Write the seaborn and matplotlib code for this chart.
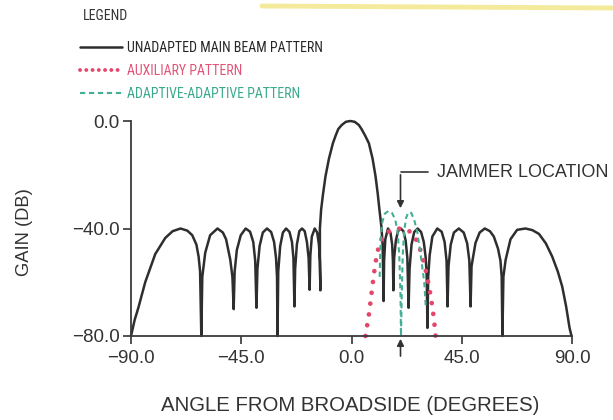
import matplotlib
matplotlib.use("Agg")
import matplotlib.pyplot as plt
import seaborn as sns
from matplotlib.lines import Line2D

# unadapted main beam pattern (degrees, dB)
main_angle = [-90, -88.5, -87, -84.2, -80.1, -76, -73, -69.8, -67, -65, -63.3, -62.4, -61.8, -61.3,
              -60.9, -59.7, -57.7, -54.7, -52.5, -51.2, -49.5, -48.6, -48.1,
              -47.7, -46.8, -45.2, -43.2, -41.4, -40.1, -39.3, -38.8,
              -38.4, -37.5, -36.2, -34.5, -32.8, -31.6, -30.8, -30.4, -30.2,
              -29.9, -29.1, -28, -26.7, -25.3, -24.3, -23.7, -23.3,
              -23, -22.3, -21.3, -20.2, -19.1, -18.2, -17.5, -17.1,
              -16.8, -16.2, -15.0, -14, -13.3, -12.9, -12.7,
              -12.9, -12.9, -12.4, -11.6, -10.6, -9.2, -7.6, -6.5, -5.4, -4, -2.3, -0.5,
              1.3, 3, 4.1, 5.6, 7.1, 8.6, 9.8, 10.7, 11.4, 12.2, 12.7, 13.1,
              13.3, 13.8, 14.9, 15.9, 16.6, 16.9, 17.1,
              17.4, 18.1, 19, 20.1, 21.2, 22.1, 22.8, 23.3,
              23.7, 24.5, 25.6, 27, 28.4, 29.5, 30.3, 30.7, 31.0,
              31.3, 31.9, 33, 35, 36.8, 38, 38.8, 39.2,
              39.6, 40.5, 41.8, 43.8, 45.8, 47.2, 48.1, 48.6,
              49.0, 50.6, 52.3, 54.4, 56.5, 58.1, 59.8, 60.8, 61.3, 61.6,
              62.0, 62.9, 64.9, 67.6, 71, 73.8, 76.5, 79.3, 81.9, 84.2, 86, 87.6, 89, 89.8]
main_gain = [-80, -74, -69.5, -60, -49.5, -43.5, -41, -40, -40.8, -42.5, -46, -50.5, -56, -80,
             -58, -49, -42.5, -40, -41.5, -44, -51.5, -58, -70,
             -56, -48, -42.5, -40, -41.2, -45, -52, -69.5,
             -55, -46.5, -41.5, -40, -41.3, -45, -51, -58, -80,
             -56, -46.5, -41.5, -40, -41.3, -45, -51, -69,
             -55, -46, -41, -40, -41, -45, -51, -62.8,
             -50, -43, -40, -41.5, -46, -52, -63,
             -50, -40, -33, -27, -20.5, -14, -8.3, -5.5, -3, -1.5, -0.3, 0,
             -0.3, -1.5, -3, -5.5, -8.3, -14, -20.5, -27, -33, -39.3, -46, -67,
             -52, -44, -40, -41.5, -46, -52, -63,
             -51, -44.5, -41, -40, -41, -44.5, -51, -69.5,
             -55, -46, -41.3, -40, -41.3, -45, -51, -58, -77,
             -58, -50, -43, -40, -41.2, -45, -52, -69,
             -54, -46, -41.5, -40, -41.5, -45.5, -52, -69,
             -54, -45.4, -41.5, -40, -41, -43, -47.5, -52, -58, -80,
             -58, -51.7, -44, -40.5, -40, -40.6, -42, -45.5, -50.4, -56, -61.6, -69, -77, -80]

# auxiliary pattern
aux_angle = [5.7, 6.4, 7.1, 7.8, 8.4, 9.0, 9.6, 10.3, 11.2, 12.5, 14.5, 17, 20, 23, 25,
             26.8, 28.2, 29.4, 30.4, 31.3, 32.1, 32.8, 33.4, 33.9, 34.3]
aux_gain = [-80, -76, -72, -67, -62.5, -58, -54, -50, -46.5, -43.5, -41.5, -40.3, -40, -40.6, -42,
            -44.8, -48.3, -52.2, -56, -60, -64, -68, -72, -76, -80]

# adaptive-adaptive pattern
adapt_angle = [11.5, 11.7, 12, 12.6, 13.6, 15, 16.5, 17.8, 18.8, 19.5, 20.0, 20.2,
               20.5, 20.9, 21.5, 22.3, 23.2, 24.4, 25.6, 26.9, 28.3, 29.7, 30.3]
adapt_gain = [-58, -50, -43, -37.5, -34.5, -33.5, -34.2, -36.5, -41, -50, -65, -80,
              -65, -50, -41, -36, -34, -34.2, -36.8, -41.6, -50.4, -60, -69]

jammer_angle = 20.0

x_ticks = [-90, -45, 0, 45, 90]
x_tick_labels = ["\u221290.0", "\u221245.0", "0.0", "45.0", "90.0"]
y_ticks = [0, -40, -80]
y_tick_labels = ["0.0", "\u221240.0", "\u221280.0"]

legend_labels = ["UNADAPTED MAIN BEAM PATTERN", "AUXILIARY PATTERN", "ADAPTIVE-ADAPTIVE PATTERN"]
line_colors = ["#2e2e2e", "#e4476a", "#43ae93"]
text_colors = ["#262626", "#e2557a", "#3aa98c"]

sns.set_style("ticks")
plt.rcParams["font.family"] = ["Liberation Sans", "DejaVu Sans"]
narrow = ["Roboto Condensed", "Archivo Narrow", "Liberation Sans"]

fig = plt.figure(figsize=(6.13, 4.2), dpi=100)
ax = fig.add_axes([131 / 613, 84 / 420, 441 / 613, 215 / 420])

sns.lineplot(x=main_angle, y=main_gain, sort=False, estimator=None, ax=ax,
             color=line_colors[0], linewidth=1.8, clip_on=False)
sns.lineplot(x=aux_angle, y=aux_gain, sort=False, estimator=None, ax=ax,
             color=line_colors[1], linewidth=3.4, linestyle=(0, (0.01, 2.3)),
             dash_capstyle="round", clip_on=False)
sns.lineplot(x=adapt_angle, y=adapt_gain, sort=False, estimator=None, ax=ax,
             color=line_colors[2], linewidth=1.5, linestyle=(0, (2.5, 1.8)), clip_on=False)

ax.set_xlim(-90, 90)
ax.set_ylim(-80, 0)
ax.set_xticks(x_ticks, x_tick_labels)
ax.set_yticks(y_ticks, y_tick_labels)
ax.tick_params(axis="both", length=6, width=1.2, colors="#333333", labelsize=13.5)
ax.tick_params(axis="x", pad=4)
ax.tick_params(axis="y", pad=2)
sns.despine(ax=ax)
for side in ["left", "bottom"]:
    ax.spines[side].set_color("#3a3a3a")
    ax.spines[side].set_linewidth(1.3)

ax.set_xlabel("ANGLE FROM BROADSIDE (DEGREES)", fontsize=14.7, color="#333333")
ax.set_ylabel("GAIN (DB)", fontsize=13.2, color="#333333")
ax.xaxis.set_label_coords(0.497, -0.28)
ax.yaxis.set_label_coords(-0.222, 0.484)

# jammer marker
ax.annotate("", xy=(jammer_angle, -33.5), xytext=(jammer_angle, -19),
            arrowprops=dict(arrowstyle="-|>", color="#333333", lw=1.2, mutation_scale=10))
ax.plot([jammer_angle, jammer_angle + 11.4], [-19, -19], color="#333333", lw=1.2)
ax.text(jammer_angle + 15, -19, "JAMMER LOCATION", ha="left", va="center",
        fontsize=13, color="#333333")
ax.annotate("", xy=(jammer_angle, -80), xytext=(jammer_angle, -88.5),
            arrowprops=dict(arrowstyle="-|>", color="#333333", lw=1.2, mutation_scale=10),
            annotation_clip=False)

fig.text(83 / 613, 1 - 16 / 420, "LEGEND", ha="left", va="center", fontsize=10,
         color="#333333", family=narrow)
handles = [
    Line2D([], [], color=line_colors[0], lw=1.8),
    Line2D([], [], color=line_colors[1], lw=2.8, linestyle=(0, (0.01, 1.6)), dash_capstyle="round"),
    Line2D([], [], color=line_colors[2], lw=1.5, linestyle=(0, (2.5, 1.8))),
]
leg = fig.legend(handles=handles, labels=legend_labels, loc="upper left",
                 bbox_to_anchor=(80 / 613, 1 - 41 / 420), frameon=False, borderpad=0,
                 borderaxespad=0, handlelength=3.0, handletextpad=0.4, labelspacing=0.64,
                 prop={"family": narrow, "size": 10}, labelcolor=text_colors)

# yellow highlighter stroke along the top of the scan
fig.add_artist(Line2D([262 / 613, 1.0], [1 - 6 / 420, 1 - 8 / 420], color="#f4ea9c",
                      lw=3.5, transform=fig.transFigure))

fig.savefig("out.png", dpi=100)
